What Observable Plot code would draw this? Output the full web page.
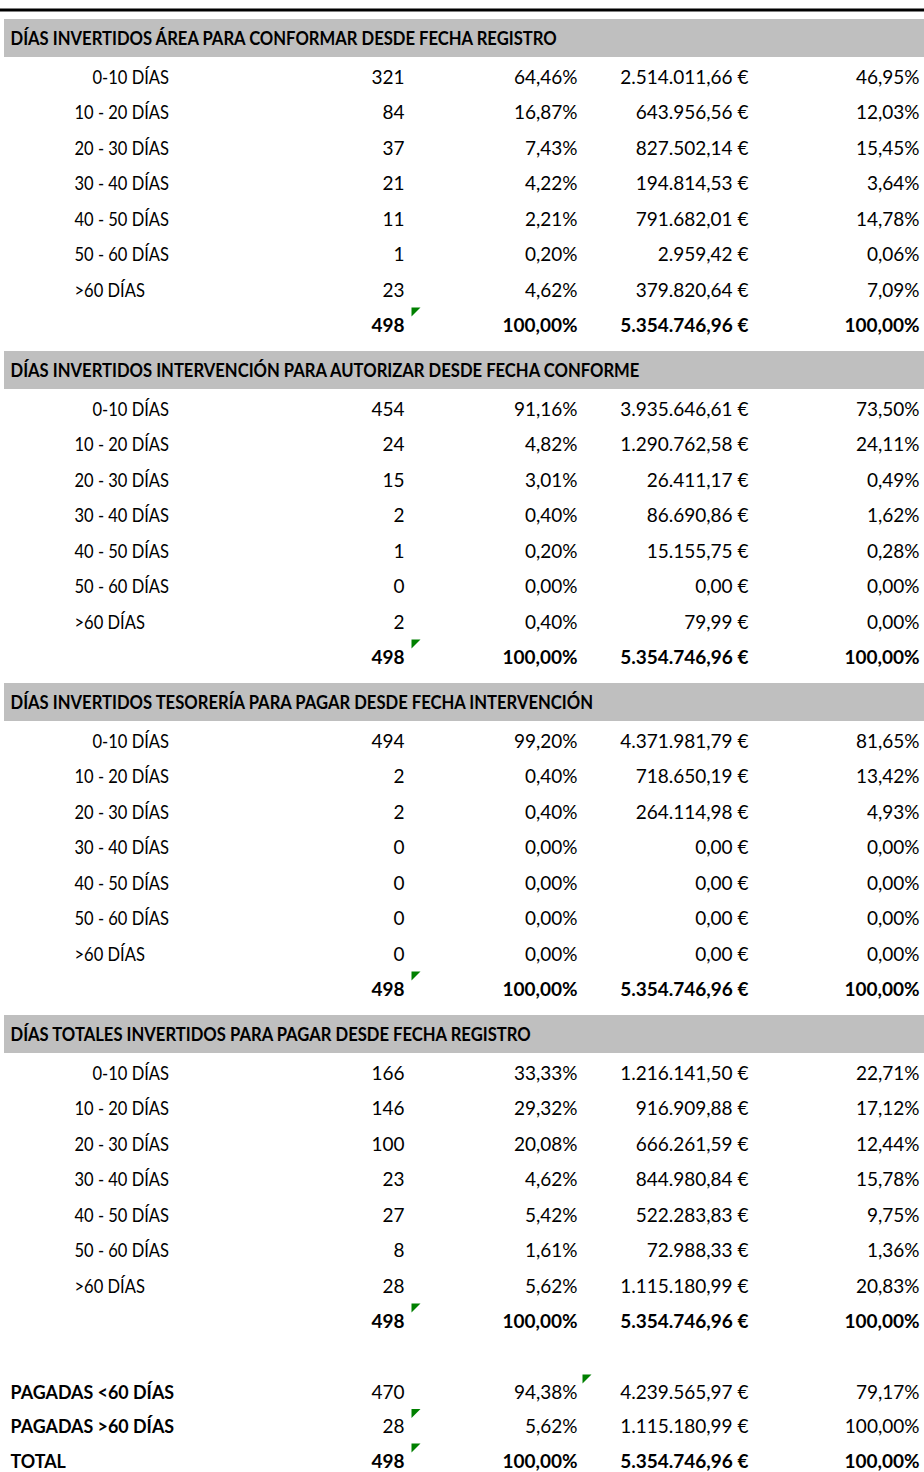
<!DOCTYPE html>
<html>
<head>
<meta charset="utf-8">
<script src="https://cdn.jsdelivr.net/npm/d3@7"></script>
<script src="https://cdn.jsdelivr.net/npm/@observablehq/plot@0.6"></script>
<style>
  html, body { margin: 0; padding: 0; background: #fff; overflow: hidden; }
  #chart svg { display: block; }
</style>
</head>
<body>
<div id="chart"></div>
<script>
// ---------- DATA ----------
const sectionTitles = [
  "DÍAS INVERTIDOS ÁREA PARA CONFORMAR DESDE FECHA REGISTRO",
  "DÍAS INVERTIDOS INTERVENCIÓN PARA AUTORIZAR DESDE FECHA CONFORME",
  "DÍAS INVERTIDOS TESORERÍA PARA PAGAR DESDE FECHA INTERVENCIÓN",
  "DÍAS TOTALES INVERTIDOS PARA PAGAR DESDE FECHA REGISTRO"
];
const rangeLabels = ["0-10 DÍAS", "10 - 20 DÍAS", "20 - 30 DÍAS", "30 - 40 DÍAS", "40 - 50 DÍAS", "50 - 60 DÍAS", ">60 DÍAS"];

const counts = [
  [321, 84, 37, 21, 11, 1, 23],
  [454, 24, 15, 2, 1, 0, 2],
  [494, 2, 2, 0, 0, 0, 0],
  [166, 146, 100, 23, 27, 8, 28]
];
const countPct = [
  [64.46, 16.87, 7.43, 4.22, 2.21, 0.20, 4.62],
  [91.16, 4.82, 3.01, 0.40, 0.20, 0.00, 0.40],
  [99.20, 0.40, 0.40, 0.00, 0.00, 0.00, 0.00],
  [33.33, 29.32, 20.08, 4.62, 5.42, 1.61, 5.62]
];
const amounts = [
  [2514011.66, 643956.56, 827502.14, 194814.53, 791682.01, 2959.42, 379820.64],
  [3935646.61, 1290762.58, 26411.17, 86690.86, 15155.75, 0.00, 79.99],
  [4371981.79, 718650.19, 264114.98, 0.00, 0.00, 0.00, 0.00],
  [1216141.50, 916909.88, 666261.59, 844980.84, 522283.83, 72988.33, 1115180.99]
];
const amountPct = [
  [46.95, 12.03, 15.45, 3.64, 14.78, 0.06, 7.09],
  [73.50, 24.11, 0.49, 1.62, 0.28, 0.00, 0.00],
  [81.65, 13.42, 4.93, 0.00, 0.00, 0.00, 0.00],
  [22.71, 17.12, 12.44, 15.78, 9.75, 1.36, 20.83]
];
const totalCount = [498, 498, 498, 498];
const totalCountPct = [100.00, 100.00, 100.00, 100.00];
const totalAmount = [5354746.96, 5354746.96, 5354746.96, 5354746.96];
const totalAmountPct = [100.00, 100.00, 100.00, 100.00];

const summaryLabels = ["PAGADAS <60 DÍAS", "PAGADAS >60 DÍAS", "TOTAL"];
const summaryCounts = [470, 28, 498];
const summaryCountPct = [94.38, 5.62, 100.00];
const summaryAmounts = [4239565.97, 1115180.99, 5354746.96];
const summaryAmountPct = [79.17, 100.00, 100.00];
const summaryBold = [false, false, true];

// ---------- LAYOUT (positions only) ----------
const W = 924, H = 1472;
const colX = {label: 74, count: 404, pct: 577, eur: 748, pct2: 919};
const headerX = 10;
const firstHeaderY = 38, sectionPitch = 332, headerToRow = 39, rowPitch = 35.5, headerToTotal = 287;
const summaryStart = 1392, summaryPitch = 34.5;

const loc = d3.formatLocale({decimal: ",", thousands: ".", grouping: [3], currency: ["", ""]});
const f2 = loc.format(",.2f");
const fInt = loc.format(",d");
const fmtPct = v => f2(v) + "%";
const fmtEur = v => f2(v) + " €";

// ---------- TABLE ----------
const headers = sectionTitles.map((t, s) => ({text: t, y: firstHeaderY + s * sectionPitch}));
const rows = [];
sectionTitles.forEach((t, s) => {
  const h = firstHeaderY + s * sectionPitch;
  rangeLabels.forEach((lab, i) => {
    rows.push({label: lab, count: counts[s][i], pct: countPct[s][i], eur: amounts[s][i], pct2: amountPct[s][i],
      y: h + headerToRow + i * rowPitch, bold: false, indent: i === 0});
  });
  rows.push({label: "", count: totalCount[s], pct: totalCountPct[s], eur: totalAmount[s], pct2: totalAmountPct[s],
    y: h + headerToTotal, bold: true, flagCol: "count"});
});
summaryLabels.forEach((lab, i) => {
  rows.push({label: lab, count: summaryCounts[i], pct: summaryCountPct[i], eur: summaryAmounts[i], pct2: summaryAmountPct[i],
    y: summaryStart + i * summaryPitch, bold: summaryBold[i], summary: true, flagCol: i === 0 ? "pct" : "count"});
});

const flags = rows.filter(d => d.flagCol);
const flagX = {count: colX.count + 7, pct: colX.pct + 5};

const corner = {
  draw(context) {
    const s = 9;
    context.moveTo(0, 0);
    context.lineTo(s, 0);
    context.lineTo(0, s);
    context.closePath();
  }
};

const fontSize = 19;
const normal = rows.filter(d => !d.bold);
const bold = rows.filter(d => d.bold);
const labelNormal = rows.filter(d => d.label && !d.summary);
const labelSummary = rows.filter(d => d.summary);

const textMarks = [];
for (const [data, weight] of [[normal, "normal"], [bold, "bold"]]) {
  textMarks.push(
    Plot.text(data, {x: () => colX.count, y: "y", text: d => fInt(d.count), textAnchor: "end", fontSize, fontWeight: weight, fill: "#000"}),
    Plot.text(data, {x: () => colX.pct, y: "y", text: d => fmtPct(d.pct), textAnchor: "end", fontSize, fontWeight: weight, fill: "#000"}),
    Plot.text(data, {x: () => colX.eur, y: "y", text: d => fmtEur(d.eur), textAnchor: "end", fontSize, fontWeight: weight, fill: "#000"}),
    Plot.text(data, {x: () => colX.pct2, y: "y", text: d => fmtPct(d.pct2), textAnchor: "end", fontSize, fontWeight: weight, fill: "#000"})
  );
}

const chart = Plot.plot({
  width: W,
  height: H,
  margin: 0,
  x: {domain: [0, W], range: [0, W], axis: null},
  y: {domain: [0, H], range: [0, H], axis: null},
  style: {fontFamily: "Lato, 'Open Sans', sans-serif", color: "#000", background: "#fff"},
  marks: [
    Plot.ruleY([0], {y: () => 9.5, x1: () => 0, x2: () => W, stroke: "#000", strokeWidth: 3}),
    Plot.rect(headers, {x1: () => 4, x2: () => W, y1: d => d.y - 19, y2: d => d.y + 19, fill: "#bfbfbf"}),
    Plot.text(headers, {x: () => headerX, y: "y", text: "text", textAnchor: "start", fontWeight: "bold", fontSize, fill: "#000"}),
    Plot.text(labelNormal, {x: d => colX.label + (d.indent ? 18 : 0), y: "y", text: "label", textAnchor: "start", fontSize, fill: "#000"}),
    Plot.text(labelSummary, {x: () => headerX, y: "y", text: "label", textAnchor: "start", fontSize, fontWeight: "bold", fill: "#000"}),
    ...textMarks,
    Plot.dot(flags, {x: d => flagX[d.flagCol], y: d => d.y - 18, symbol: corner, fill: "#008000", stroke: null, r: 3})
  ]
});
document.getElementById("chart").appendChild(chart);

// Narrow the lettered texts (Calibri-like condensed width)
function condense() {
  const groups = chart.querySelectorAll('g[aria-label="text"]');
  const factors = [0.875, 0.87, 0.94];
  factors.forEach((k, gi) => {
    const g = groups[gi];
    if (!g) return;
    g.querySelectorAll("text").forEach(t => {
      if (!t.dataset.len) t.dataset.len = t.getComputedTextLength();
      const L = +t.dataset.len;
      if (L > 0) {
        t.setAttribute("textLength", (L * k).toFixed(1));
        t.setAttribute("lengthAdjust", "spacingAndGlyphs");
      }
    });
  });
}
condense();
if (document.fonts && document.fonts.ready) document.fonts.ready.then(condense);
</script>
</body>
</html>
